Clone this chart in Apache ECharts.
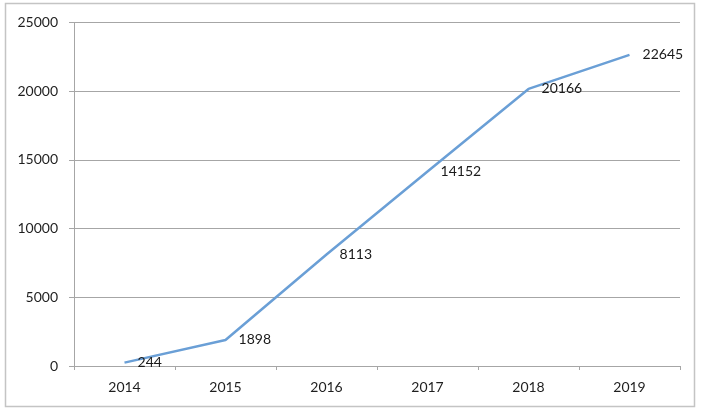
<!DOCTYPE html>
<html><head><meta charset="utf-8">
<script src="https://cdn.jsdelivr.net/npm/echarts@6/dist/echarts.min.js"></script>
<style>html,body{margin:0;padding:0;background:#fff}#c{width:704px;height:413px}</style>
</head><body><div id="c"></div>
<script>
var categories = ['2014','2015','2016','2017','2018','2019'];
var values = [244, 1898, 8113, 14152, 20166, 22645];
var yTicks = [0, 5000, 10000, 15000, 20000, 25000];

var chart = echarts.init(document.getElementById('c'), null, {renderer:'canvas'});
var font = 'Lato, "Open Sans", sans-serif';
chart.setOption({
  animation: false,
  graphic: [{type:'rect', shape:{x:5.5,y:3.5,width:689,height:403}, style:{fill:'none', stroke:'#c4c4c4', lineWidth:1.5}, z:-1}],
  grid: {left:74, right:24, top:22.5, bottom:47, containLabel:false},
  xAxis: {
    type:'category', data: categories, boundaryGap:true,
    axisLine:{lineStyle:{color:'#a6a6a6', width:1}},
    axisTick:{show:true, inside:false, length:4, lineStyle:{color:'#a6a6a6'}},
    axisLabel:{color:'#1f1f1f', fontSize:14, fontFamily:font, margin:14}
  },
  yAxis: {
    type:'value', min:yTicks[0], max:yTicks[yTicks.length-1], interval:5000,
    axisLine:{show:true, lineStyle:{color:'#a6a6a6', width:1}},
    axisTick:{show:true, length:5, lineStyle:{color:'#a6a6a6'}},
    axisLabel:{color:'#1f1f1f', fontSize:14, fontFamily:font, margin:16, formatter:function(v){return String(v);}},
    splitLine:{lineStyle:{color:'#a6a6a6', width:1}}
  },
  series: [{
    type:'line', data: values,
    symbol:'circle', symbolSize:0.1, showSymbol:true,
    lineStyle:{color:'#6a9fd6', width:2.5},
    itemStyle:{color:'#6a9fd6'},
    label:{show:true, position:'right', distance:13, color:'#1a1a1a', fontSize:14, fontFamily:font}
  }]
});
</script></body></html>
